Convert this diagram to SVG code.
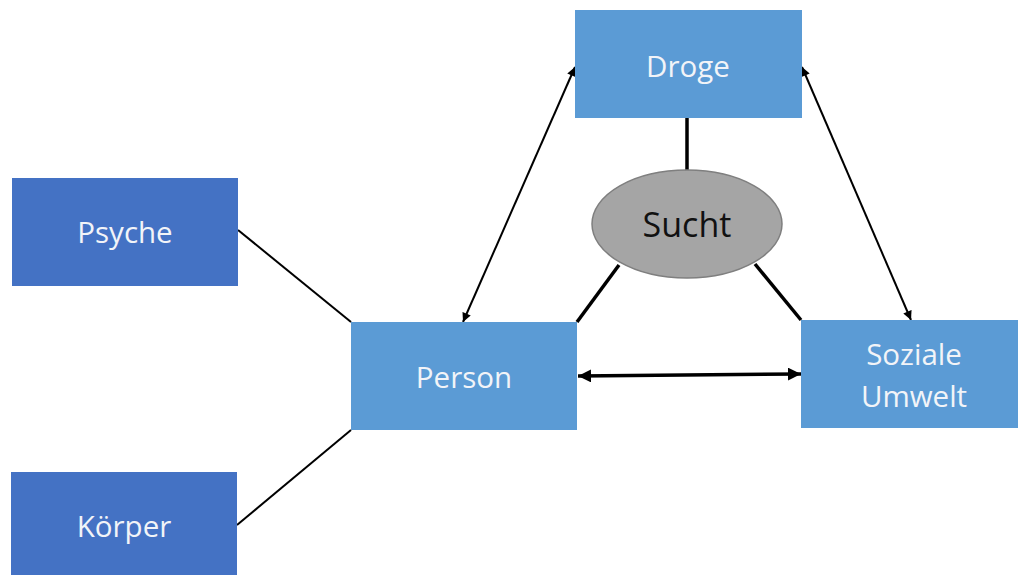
<svg xmlns="http://www.w3.org/2000/svg" width="1018" height="575" viewBox="0 0 1018 575">
<defs>
<style>
.box{fill:#5b9bd5;}
.dark{fill:#4472c4;}
.lbl{font-family:"Open Sans","Liberation Sans",sans-serif;font-size:29.5px;fill:#f2f4f8;text-anchor:middle;}
.ln{stroke:#000;stroke-width:2;fill:none;}
.thick{stroke:#000;stroke-width:3.5;fill:none;}
</style>
<marker id="ah" viewBox="0 0 10 10" refX="10" refY="5" markerWidth="10" markerHeight="9" orient="auto-start-reverse" markerUnits="userSpaceOnUse">
<path d="M0,0 L10,5 L0,10 z" fill="#000"/>
</marker>
<marker id="ah2" viewBox="0 0 10 10" refX="10" refY="5" markerWidth="13" markerHeight="13" orient="auto-start-reverse" markerUnits="userSpaceOnUse">
<path d="M0,0 L10,5 L0,10 z" fill="#000"/>
</marker>
</defs>
<rect width="1018" height="575" fill="#fff"/>
<g id="connectors">
<line class="ln" x1="238" y1="230" x2="351" y2="322"/>
<line class="ln" x1="237" y1="525" x2="351" y2="430"/>
<line class="thick" x1="687" y1="118" x2="687" y2="171"/>
<line class="thick" x1="619" y1="265" x2="577" y2="322"/>
<line class="thick" x1="755" y1="264" x2="801" y2="320"/>
<line class="ln" x1="463" y1="322" x2="575" y2="67" marker-start="url(#ah)" marker-end="url(#ah)"/>
<line class="ln" x1="802" y1="67" x2="911" y2="320" marker-start="url(#ah)" marker-end="url(#ah)"/>
<line class="thick" x1="578" y1="376" x2="801" y2="374" marker-start="url(#ah2)" marker-end="url(#ah2)"/>
</g>
<g id="droge"><rect class="box" x="575" y="10" width="227" height="108"/><text class="lbl" x="688" y="77">Droge</text></g>
<g id="sucht"><ellipse cx="687" cy="224" rx="95" ry="54" fill="#a5a5a5" stroke="#7f7f7f" stroke-width="1.5"/><text x="687" y="237" text-anchor="middle" font-family="Open Sans, Liberation Sans, sans-serif" font-size="34" fill="#111">Sucht</text></g>
<g id="psyche"><rect class="dark" x="12" y="178" width="226" height="108"/><text class="lbl" x="125" y="243">Psyche</text></g>
<g id="koerper"><rect class="dark" x="11" y="472" width="226" height="108"/><text class="lbl" x="124" y="537">Körper</text></g>
<g id="person"><rect class="box" x="351" y="322" width="226" height="108"/><text class="lbl" x="464" y="388">Person</text></g>
<g id="soziale"><rect class="box" x="801" y="320" width="217" height="108"/><text class="lbl" x="914" y="365">Soziale</text><text class="lbl" x="914" y="407">Umwelt</text></g>
</svg>
